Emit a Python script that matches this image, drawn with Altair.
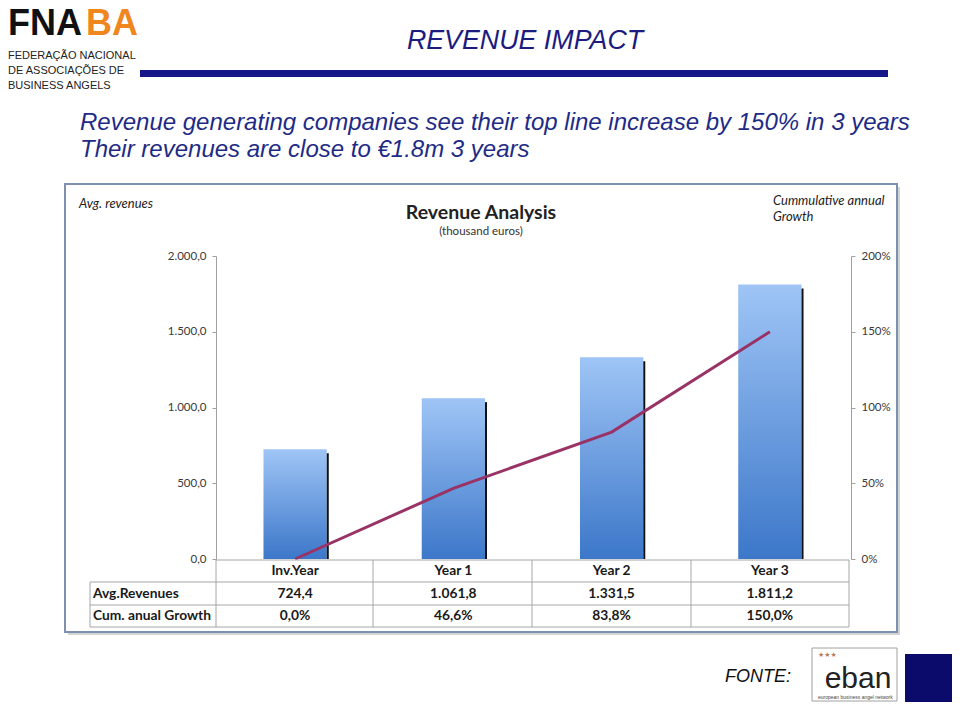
import altair as alt
import pandas as pd

# ---------------- data ----------------
categories = ["Inv.Year", "Year 1", "Year 2", "Year 3"]
avg_revenues = [724.4, 1061.8, 1331.5, 1811.2]          # thousand euros
cum_growth = [0.0, 0.466, 0.838, 1.500]                  # cumulative annual growth
rev_ticks = [0, 500, 1000, 1500, 2000]
growth_ticks = [0, 0.5, 1.0, 1.5, 2.0]
row_labels = ["Avg.Revenues", "Cum. anual Growth"]

W, H = 944, 694


def px(x):
    return x - 8


def py(y):
    return y - 8


def eu(v):
    s = f"{v:,.1f}"
    return s.replace(",", "_").replace(".", ",").replace("_", ".")


df = pd.DataFrame({
    "cat": categories,
    "rev": avg_revenues,
    "growth": cum_growth,
    "rev_txt": [eu(v) for v in avg_revenues],
    "growth_txt": [f"{g * 100:.1f}%".replace(".", ",") for g in cum_growth],
})
one = pd.DataFrame({"k": [0]})

CH_FONT = "Lato"
SL_FONT = "Liberation Sans"
NAVY = "#1b1b80"
GRID = "#a6a6a6"


def txt(s, x, y, size, color="#000000", font=SL_FONT, weight="normal",
        style="normal", align="left", baseline="alphabetic"):
    return alt.Chart(one).mark_text(
        text=s, font=font, fontSize=size, fontWeight=weight, fontStyle=style,
        color=color, align=align, baseline=baseline
    ).encode(x=alt.value(px(x)), y=alt.value(py(y)))


def rect(x1, y1, x2, y2, **kw):
    return alt.Chart(one).mark_rect(**kw).encode(
        x=alt.value(px(x1)), x2=alt.value(px(x2)),
        y=alt.value(py(y1)), y2=alt.value(py(y2)))


def hline(x1, x2, y, color=GRID, w=1):
    return alt.Chart(one).mark_rule(color=color, strokeWidth=w).encode(
        x=alt.value(px(x1)), x2=alt.value(px(x2)), y=alt.value(py(y)))


def vline(x, y1, y2, color=GRID, w=1):
    return alt.Chart(one).mark_rule(color=color, strokeWidth=w).encode(
        x=alt.value(px(x)), y=alt.value(py(y1)), y2=alt.value(py(y2)))


# ---------------- scales ----------------
xscale = alt.Scale(type="band", domain=categories, range=[px(216), px(849)],
                   paddingInner=0.6, paddingOuter=0.3)
y_rev = alt.Scale(domain=[0, 2000], range=[py(559), py(256)], nice=False)
y_gr = alt.Scale(domain=[0, 2], range=[py(559), py(256)], nice=False)

left_axis = alt.Axis(
    orient="left", values=rev_ticks, offset=-px(216), grid=False, title=None,
    zindex=2,
    labelExpr="replace(replace(replace(format(datum.value, ',.1f'), ',', '_'), '.', ','), '_', '.')",
    domainColor="#a0a0a0", tickColor="#a0a0a0", tickSize=4, labelPadding=6,
    labelFont=CH_FONT, labelFontSize=11.5, labelColor="#3a3a3a")
right_axis = alt.Axis(
    orient="right", values=growth_ticks, format=".0%", offset=-(W - px(851)),
    grid=False, title=None, zindex=2, domainColor="#a0a0a0", tickColor="#a0a0a0",
    tickSize=4, labelPadding=6, labelFont=CH_FONT, labelFontSize=11.5,
    labelColor="#3a3a3a")

# ---------------- chart frame ----------------
frame_shadow = rect(68, 187, 900, 635, fill="#d4d4d4")
frame = rect(65, 184, 897, 632, fill="white", stroke="#7f90ae", strokeWidth=2)

bar_grad = alt.Gradient(
    gradient="linear", x1=0, x2=0, y1=0, y2=1,
    stops=[alt.GradientStop(color="#9fc5f6", offset=0),
           alt.GradientStop(color="#3c77c9", offset=1)])

bars = alt.Chart(df).mark_bar(color=bar_grad).encode(
    x=alt.X("cat:N", scale=xscale, axis=None),
    y=alt.Y("rev:Q", scale=y_rev, axis=left_axis))

bar_edge = alt.Chart(df).mark_rule(color="#111111", strokeWidth=2, xOffset=1,
                                   yOffset=4, y2Offset=0).encode(
    x=alt.X("cat:N", scale=xscale, axis=None, bandPosition=1),
    y=alt.Y("rev:Q", scale=y_rev, axis=None),
    y2=alt.datum(0))

line = alt.Chart(df).mark_line(color="#993366", strokeWidth=3).encode(
    x=alt.X("cat:N", scale=xscale, axis=None, bandPosition=0.5),
    y=alt.Y("growth:Q", scale=y_gr, axis=right_axis))

# ---------------- table ----------------
table_lines = [
    hline(216, 849, 560), hline(90, 849, 582), hline(90, 849, 605), hline(90, 849, 627),
    vline(90, 582, 627), vline(216, 560, 627), vline(373, 560, 627),
    vline(532, 560, 627), vline(691, 560, 627), vline(849, 560, 627),
]


def table_row(field, y):
    return alt.Chart(df).mark_text(
        font=CH_FONT, fontWeight="bold", fontSize=13.8, color="#1a1a1a",
        baseline="middle", align="center").encode(
        x=alt.X("cat:N", scale=xscale, axis=None, bandPosition=0.5),
        y=alt.value(py(y)), text=f"{field}:N")


table_text = [
    table_row("cat", 571), table_row("rev_txt", 594), table_row("growth_txt", 616),
    txt(row_labels[0], 93, 594, 13.8, color="#1a1a1a", font=CH_FONT, weight="bold", baseline="middle"),
    txt(row_labels[1], 93, 616, 13.8, color="#1a1a1a", font=CH_FONT, weight="bold", baseline="middle"),
]

chart_texts = [
    txt("Revenue Analysis", 481, 219, 19.5, color="#222222", font=CH_FONT, weight="bold", align="center"),
    txt("(thousand euros)", 481, 235, 11.5, color="#333333", font=CH_FONT, align="center"),
    txt("Avg. revenues", 79, 208, 13, color="#222222", font=CH_FONT, style="italic"),
    txt("Cummulative annual", 773, 205, 13, color="#222222", font=CH_FONT, style="italic"),
    txt("Growth", 773, 221, 13, color="#222222", font=CH_FONT, style="italic"),
]

# ---------------- slide decorations ----------------
slide = [
    txt("FNA", 8, 35, 36, color="#111111", weight="bold"),
    txt("BA", 86, 35, 36, color="#f0861e", weight="bold"),
    txt("FEDERAÇÃO NACIONAL", 8, 59, 11, color="#222222"),
    txt("DE ASSOCIAÇÕES DE", 8, 74, 11, color="#222222"),
    txt("BUSINESS ANGELS", 8, 89, 11, color="#222222"),
    txt("REVENUE IMPACT", 525, 49, 26.8, color=NAVY, style="italic", align="center"),
    rect(140, 70, 888, 77, fill="#16168a"),
    txt("Revenue generating companies see their top line increase by 150% in 3 years",
        80, 130, 24, color="#1e2b86", style="italic"),
    txt("Their revenues are close to €1.8m 3 years", 80, 157, 24, color="#1e2b86", style="italic"),
    txt("FONTE:", 725, 682, 18, color="#111111", style="italic"),
    rect(812, 648, 897, 701, fill="white", stroke="#a0a0a0", strokeWidth=1),
    txt("eban", 858, 688, 30, color="#222222", align="center"),
    txt("★★★", 818, 657, 7, color="#b9785a", font="DejaVu Sans"),
    txt("european business angel network", 818, 699, 5, color="#444444"),
    rect(905, 654, 960, 710, fill="#0b0b6b"),
]

layers = ([frame_shadow, frame, bars, bar_edge, line] + table_lines + table_text
          + chart_texts + slide)

chart = alt.layer(*layers).resolve_scale(y="independent").properties(
    width=W, height=H, autosize=alt.AutoSizeParams(type="none"), padding=0
).configure_view(stroke="transparent")

chart.save("out.html", embed_options={"renderer": "svg", "actions": False})
